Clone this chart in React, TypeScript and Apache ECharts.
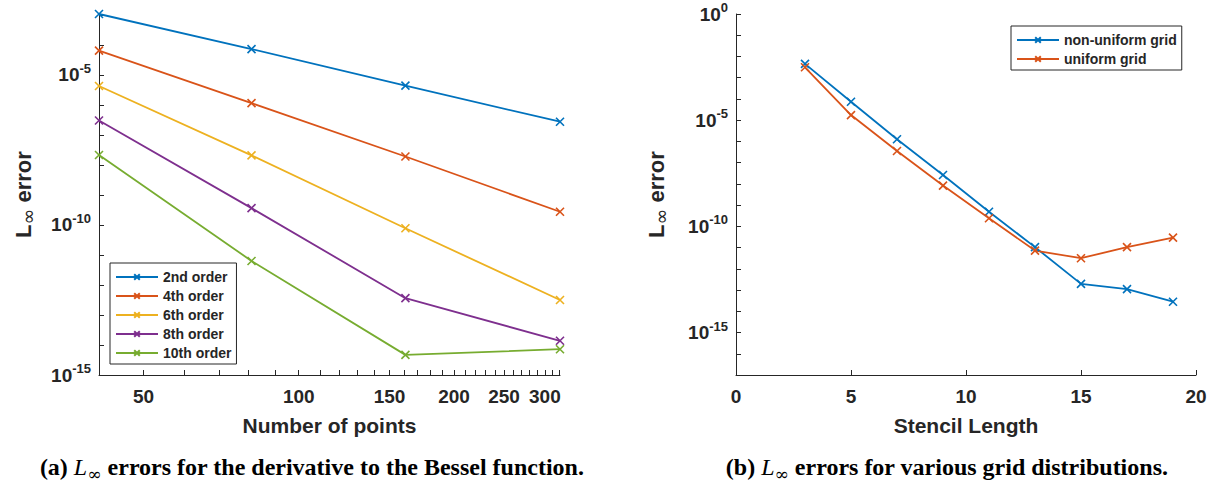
import { useEffect, useRef } from 'react';
import * as echarts from 'echarts';

// Panel (a): error vs number of points, one line per stencil order
const pointCounts = [41, 81, 161, 321];
const orderNames = ['2nd order', '4th order', '6th order', '8th order', '10th order'];
const order2 = [1.07e-3, 7.24e-5, 4.37e-6, 2.75e-7];
const order4 = [6.46e-5, 1.15e-6, 1.91e-8, 2.75e-10];
const order6 = [4.27e-6, 2.09e-8, 7.76e-11, 3.16e-13];
const order8 = [3.02e-7, 3.63e-10, 3.63e-13, 1.38e-14];
const order10 = [2.14e-8, 6.31e-12, 4.68e-15, 7.24e-15];
const orderErrors = [order2, order4, order6, order8, order10];

// Panel (b): error vs stencil length for two grid distributions
const stencilLengths = [3, 5, 7, 9, 11, 13, 15, 17, 19];
const gridNames = ['non-uniform grid', 'uniform grid'];
const nonUniformErr = [4.47e-3, 7.41e-5, 1.26e-6, 2.63e-8, 4.9e-10, 1.05e-11, 1.95e-13, 1.1e-13, 2.82e-14];
const uniformErr = [3.09e-3, 1.74e-5, 3.55e-7, 8.32e-9, 2.4e-10, 7.24e-12, 3.16e-12, 1.05e-11, 2.95e-11];

// Axis ticks and labels
const leftXTickValues = [50, 60, 70, 80, 90, 100, 110, 120, 130, 140, 150, 160, 170, 180, 190, 200, 210, 220, 230, 240, 250, 260, 270, 280, 290, 300, 310, 320];
const leftXLabelValues = [50, 100, 150, 200, 250, 300];
const leftYDecades = [-15, -14, -13, -12, -11, -10, -9, -8, -7, -6, -5, -4, -3];
const leftYLabelDecades = [-15, -10, -5];
const rightYDecades = [-17, -16, -15, -14, -13, -12, -11, -10, -9, -8, -7, -6, -5, -4, -3, -2, -1, 0];
const rightYLabelDecades = [-15, -10, -5, 0];

const palette = ['#0072BD', '#D95319', '#EDB120', '#7E2F8E', '#77AC30'];
const ink = '#262626';
const sans = 'Liberation Sans, Arial, Helvetica, sans-serif';
const serif = 'Liberation Serif, Times New Roman, serif';
const crossMark = 'path://M0 0L10 10M0 10L10 0';

const pow10 = (e: number) => Math.pow(10, e);

const expRich = {
  b: { fontSize: 19, fontWeight: 'bold', color: ink, fontFamily: sans, lineHeight: 26 },
  s: { fontSize: 13, fontWeight: 'bold', color: ink, fontFamily: sans, lineHeight: 4, verticalAlign: 'top' },
};
const expLabel = (v: number) => `{b|10}{s|${Math.round(Math.log10(v))}}`;

const nameRich = {
  L: { fontSize: 22, fontWeight: 'bold', color: ink, fontFamily: sans, lineHeight: 28 },
  inf: { fontSize: 19, color: ink, fontFamily: 'DejaVu Sans, sans-serif', lineHeight: 2, verticalAlign: 'bottom' },
  e: { fontSize: 22, fontWeight: 'bold', color: ink, fontFamily: sans, lineHeight: 28 },
};

function yAxisLog(gridIndex: number, min: number, max: number, ticks: number[], labels: number[], gap: number) {
  return {
    type: 'log',
    logBase: 10,
    gridIndex,
    min,
    max,
    axisLine: { show: true, lineStyle: { color: ink, width: 1 } },
    axisTick: { show: true, inside: true, length: 5, customValues: ticks, lineStyle: { color: ink } },
    minorTick: { show: false },
    axisLabel: { customValues: labels, formatter: expLabel, rich: expRich, margin: 8 },
    splitLine: { show: false },
    name: '{L|L}{inf|∞}{e| error}',
    nameLocation: 'middle',
    nameRotate: 90,
    nameGap: gap,
    nameTextStyle: { rich: nameRich },
  };
}

const tickFont = { fontSize: 19, fontWeight: 'bold', color: ink, fontFamily: sans };
const axisNameFont = { fontSize: 21, fontWeight: 'bold', color: ink, fontFamily: sans };

function lineSeries(name: string, color: string, xIndex: number, data: number[][]) {
  return {
    type: 'line',
    name,
    xAxisIndex: xIndex,
    yAxisIndex: xIndex,
    data,
    clip: false,
    symbol: crossMark,
    symbolSize: 8,
    lineStyle: { color, width: 1.8 },
    itemStyle: { color, borderColor: color, borderWidth: 1.6 },
    emphasis: { disabled: true },
  };
}

function legendBox(data: string[], pos: { left: number; top: number }) {
  return {
    data,
    orient: 'vertical',
    left: pos.left,
    top: pos.top,
    padding: [6, 5, 3, 5],
    itemGap: 3,
    itemWidth: 42,
    itemHeight: 7,
    borderColor: ink,
    borderWidth: 1,
    borderRadius: 0,
    backgroundColor: '#fff',
    selectedMode: false,
    textStyle: { fontSize: 14, fontWeight: 'bold', color: ink, fontFamily: sans, lineHeight: 16 },
  };
}

const captionRich = {
  n: { fontSize: 24, fontWeight: 'bold', fontFamily: serif, color: '#000', lineHeight: 30 },
  i: { fontSize: 24, fontStyle: 'italic', fontFamily: serif, color: '#000', lineHeight: 30 },
  s: { fontSize: 17, fontFamily: 'DejaVu Serif, serif', color: '#000', lineHeight: 8, verticalAlign: 'bottom' },
};

export default function App() {
  const ref = useRef<HTMLDivElement>(null);

  useEffect(() => {
    if (!ref.current) return;
    const chart = echarts.init(ref.current, undefined, { renderer: 'svg' });

    const seriesA = orderNames.map((name, k) =>
      lineSeries(name, palette[k], 0, pointCounts.map((n, j) => [n, orderErrors[k][j]]))
    );
    const seriesB = [
      lineSeries(gridNames[0], palette[0], 1, stencilLengths.map((s, j) => [s, nonUniformErr[j]])),
      lineSeries(gridNames[1], palette[1], 1, stencilLengths.map((s, j) => [s, uniformErr[j]])),
    ];

    chart.setOption({
      animation: false,
      backgroundColor: '#fff',
      grid: [
        { left: 99, top: 14, width: 461, height: 361 },
        { left: 736, top: 14, width: 460, height: 361 },
      ],
      xAxis: [
        {
          type: 'log',
          logBase: 10,
          gridIndex: 0,
          min: 41,
          max: 321,
          axisLine: { show: true, lineStyle: { color: ink, width: 1 } },
          axisTick: { show: true, inside: true, length: 5, customValues: leftXTickValues, lineStyle: { color: ink } },
          axisLabel: { customValues: leftXLabelValues, margin: 12, ...tickFont },
          splitLine: { show: false },
          name: 'Number of points',
          nameLocation: 'middle',
          nameGap: 40,
          nameTextStyle: axisNameFont,
        },
        {
          type: 'value',
          gridIndex: 1,
          min: 0,
          max: 20,
          interval: 5,
          axisLine: { show: true, lineStyle: { color: ink, width: 1 } },
          axisTick: { show: true, inside: true, length: 5, lineStyle: { color: ink } },
          axisLabel: { margin: 12, ...tickFont },
          splitLine: { show: false },
          name: 'Stencil Length',
          nameLocation: 'middle',
          nameGap: 40,
          nameTextStyle: axisNameFont,
        },
      ],
      yAxis: [
        yAxisLog(0, 1e-15, 1.07e-3, leftYDecades.map(pow10), leftYLabelDecades.map(pow10), 62),
        yAxisLog(1, 1e-17, 1, rightYDecades.map(pow10), rightYLabelDecades.map(pow10), 66),
      ],
      legend: [
        legendBox(orderNames, { left: 110, top: 263 }),
        legendBox(gridNames, { left: 1011, top: 26 }),
      ],
      series: [...seriesA, ...seriesB],
      graphic: [
        {
          type: 'text',
          x: 312,
          y: 467,
          style: {
            text: '{n|(a) }{i|L}{s|∞}{n| errors for the derivative to the Bessel function.}',
            rich: captionRich,
            align: 'center',
            verticalAlign: 'middle',
          },
        },
        {
          type: 'text',
          x: 947,
          y: 467,
          style: {
            text: '{n|(b) }{i|L}{s|∞}{n| errors for various grid distributions.}',
            rich: captionRich,
            align: 'center',
            verticalAlign: 'middle',
          },
        },
      ],
    });

    return () => chart.dispose();
  }, []);

  return <div ref={ref} style={{ position: 'absolute', left: 0, top: 0, width: 1212, height: 486 }} />;
}
